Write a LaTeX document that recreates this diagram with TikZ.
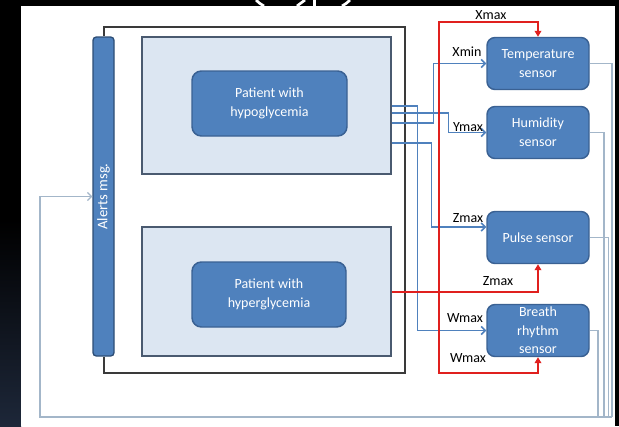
\documentclass[tikz,border=0pt]{standalone}
\usepackage{fontspec}
\setmainfont{Carlito}
\usetikzlibrary{arrows.meta,calc}
\definecolor{boxblue}{HTML}{4F81BD}
\definecolor{boxedge}{HTML}{3A6193}
\definecolor{areafill}{HTML}{DCE6F2}
\definecolor{areaedge}{HTML}{4A5A70}
\definecolor{framegray}{HTML}{3A3A3A}
\definecolor{linkblue}{HTML}{4F81BD}
\definecolor{alarmred}{HTML}{E0201E}
\definecolor{fbgray}{HTML}{A3B6C9}
\definecolor{navyband}{HTML}{1D2739}
\tikzset{
  area/.style={draw=areaedge, fill=areafill, line width=1.1pt, inner sep=0pt},
  patient/.style={draw=boxedge, fill=boxblue, rounded corners=7pt, line width=1.1pt,
    text=white, align=center, inner sep=0pt, font=\fontsize{10.5}{14.25}\selectfont},
  sensor/.style={draw=boxedge, fill=boxblue, rounded corners=6pt, line width=1.1pt,
    text=white, align=center, inner sep=0pt, minimum width=76.5pt, minimum height=39pt,
    font=\fontsize{10.5}{14}\selectfont},
  alertbar/.style={draw=boxedge!80!black, fill=boxblue, rounded corners=2.5pt, line width=1pt,
    text=white, inner sep=0pt, font=\fontsize{11}{13}\selectfont},
  link/.style={draw=linkblue, line width=1.1pt, -{Straight Barb[length=3pt,width=6pt]}},
  alarm/.style={draw=alarmred, line width=1.5pt, -{Triangle[length=4.5pt,width=5pt]}},
  outerframe/.style={draw=framegray, line width=1.5pt},
  fb/.style={draw=fbgray, line width=0.9pt},
  lbl/.style={font=\fontsize{10.5}{12}\selectfont, inner sep=0pt},
}
\begin{document}
\begin{tikzpicture}[x=0.75pt,y=-0.75pt]
\useasboundingbox (0,0) rectangle (619,426);
% backdrop: dark slide border with a white page
\fill[black] (0,0) rectangle (619,426);
\shade[top color=black, bottom color=navyband] (0,220) rectangle (21,426);
\fill[white] (21,5.5) rectangle (614.5,426);
% tails of the title glyphs above the page
\draw[white, line width=2pt] (256,0) .. controls (259,3) .. (264,6);
\draw[white, line width=2pt] (305,0) -- (297,6);
\draw[white, line width=2pt] (314.5,0) -- (314.5,6);
\draw[white, line width=2pt] (350,0) .. controls (347,3) .. (342,6);

% patient areas
\node[area, minimum width=186.75pt, minimum height=102.75pt] (hypoArea) at (266.5,105.5) {};
\node[area, minimum width=186.75pt, minimum height=96.75pt] (hyperArea) at (266.5,291.5) {};
\node[patient, minimum width=116.25pt, minimum height=48.75pt] (hypo) at (269.5,103.5) {Patient with\\hypoglycemia};
\node[patient, minimum width=115.5pt, minimum height=48.75pt] (hyper) at (269,294.5) {Patient with\\hyperglycemia};

% alert bar
\node[alertbar, rotate=90, minimum width=239.25pt, minimum height=15.75pt] (alerts) at (103.5,196.5) {Alerts msg.};

% sensors
\node[sensor] (temp) at (538,63.5) {Temperature\\sensor};
\node[sensor] (humid) at (538,132.5) {Humidity\\sensor};
\node[sensor] (pulse) at (538,237.5) {Pulse sensor};
\node[sensor, font=\fontsize{10.5}{13.8}\selectfont] (breath) at (538,330.5) {Breath\\rhythm\\sensor};

% routing points
\coordinate (frTR) at (405,27);
\coordinate (frBR) at (405,373);
\coordinate (fbT) at (612,417);
\coordinate (fbP) at (608.5,417);
\coordinate (fbH) at (604,417);
\coordinate (fbB) at (598,417);
\coordinate (fbBL) at (40,417);
\coordinate (redJ) at (439,291.5);
\coordinate (redTop) at (439,22);
\coordinate (redBot) at (439,373);

% feedback loop back to the alert bar
\draw[fb] (temp.east) -| (fbT);
\draw[fb] (humid.east) -| (fbH);
\draw[fb] (pulse.east) -| (fbP);
\draw[fb] (breath.east) -| (fbB);
\draw[fb, -{Straight Barb[length=3pt,width=6pt]}] (fbT) -- (fbBL) |- (alerts);

% outer frame around both patient areas
\draw[outerframe] (alerts.east) |- (frTR) -- (frBR) -| (alerts.west);

% low thresholds from the hypoglycemia area
\draw[link] ($(hypoArea.east)+(0,0.5)$) -- ++(26,0) |- (breath.west);
\draw[link] ($(hypoArea.east)+(0,7.5)$) -- ++(57,0) |- (humid.west);
\draw[link] ($(hypoArea.east)+(0,17.5)$) -- ++(42,0) |- (temp.west);
\draw[link] ($(hypoArea.east)+(0,37.5)$) -- ++(40,0) |- ($(pulse.west)+(0,-10.5)$);

% high thresholds from the hyperglycemia area
\draw[alarm] (hyperArea.east) -- (redJ) -- (redTop) -| (temp.north);
\draw[alarm] (redJ) -| (pulse.south);
\draw[alarm] (redJ) -- (redBot) -| (breath.south);

% threshold labels
\node[lbl] (lXmax) at (491,15) {Xmax};
\node[lbl] (lXmin) at (467,52) {Xmin};
\node[lbl] (lYmax) at (468,127) {Ymax};
\node[lbl] (lZmaxA) at (468,218) {Zmax};
\node[lbl] (lZmaxB) at (498,281) {Zmax};
\node[lbl] (lWmaxA) at (465,318) {Wmax};
\node[lbl] (lWmaxB) at (468,358) {Wmax};
\end{tikzpicture}
\end{document}
